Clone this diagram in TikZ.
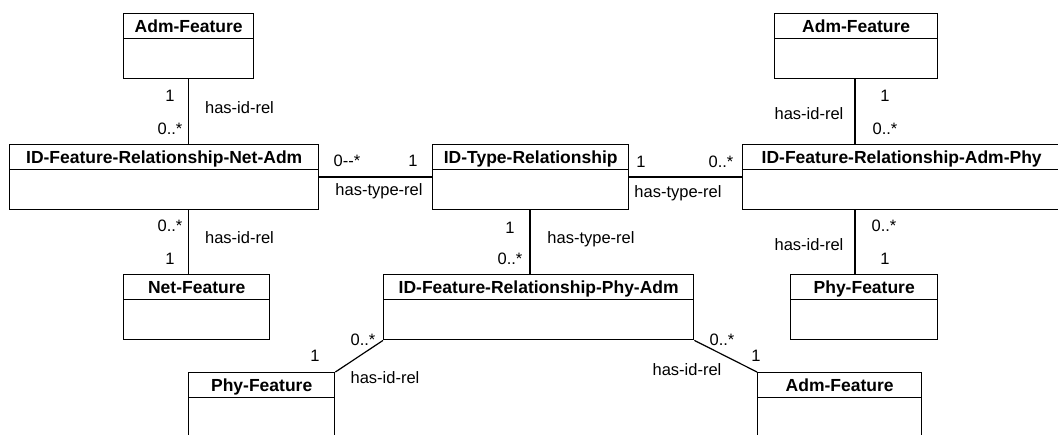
\documentclass[tikz,border=0pt]{standalone}
\usepackage{fontspec}
\setmainfont{Liberation Sans}
\begin{document}
\begin{tikzpicture}[x=1pt,y=-1pt,
  cls/.style={draw=black, line width=1.4pt, anchor=north west, inner sep=0pt,
    minimum height=65pt,
    path picture={\draw[line width=1.4pt]
      ([yshift=-25pt]path picture bounding box.north west) --
      ([yshift=-25pt]path picture bounding box.north east);}},
  ttl/.style={anchor=base, inner sep=0pt, font=\bfseries\fontsize{17.5}{20}\selectfont},
  lbl/.style={anchor=base, inner sep=0pt, font=\fontsize{16.5}{19}\selectfont},
  assoc/.style={draw=black, line width=1.2pt}]
\useasboundingbox (0,0) rectangle (1058,434);
\clip (0,0) rectangle (1058,434);

% class boxes
\node[cls, minimum width=130pt] (af1) at (123,13) {};
\node[cls, minimum width=309pt] (nfa) at (9,144) {};
\node[cls, minimum width=146pt] (nf)  at (123,274) {};
\node[cls, minimum width=196pt] (itr) at (432,144) {};
\node[cls, minimum width=163pt] (af2) at (774,13) {};
\node[cls, minimum width=318pt] (fap) at (742,144) {};
\node[cls, minimum width=147pt] (pf1) at (790,274) {};
\node[cls, minimum width=310pt] (fpa) at (383,274) {};
\node[cls, minimum width=146pt] (pf2) at (188,372) {};
\node[cls, minimum width=164pt] (af3) at (757,372) {};

% class names
\node[ttl] (af1t) at ([yshift=-19pt]af1.north) {Adm-Feature};
\node[ttl] (nfat) at ([yshift=-19pt]nfa.north) {ID-Feature-Relationship-Net-Adm};
\node[ttl] (nft)  at ([yshift=-19pt]nf.north)  {Net-Feature};
\node[ttl] (itrt) at ([yshift=-19pt]itr.north) {ID-Type-Relationship};
\node[ttl] (af2t) at ([yshift=-19pt]af2.north) {Adm-Feature};
\node[ttl] (fapt) at ([yshift=-19pt]fap.north) {ID-Feature-Relationship-Adm-Phy};
\node[ttl] (pf1t) at ([yshift=-19pt]pf1.north) {Phy-Feature};
\node[ttl] (fpat) at ([yshift=-19pt]fpa.north) {ID-Feature-Relationship-Phy-Adm};
\node[ttl] (pf2t) at ([yshift=-19pt]pf2.north) {Phy-Feature};
\node[ttl] (af3t) at ([yshift=-19pt]af3.north) {Adm-Feature};

% associations
\draw[assoc] (af1.south) -- (af1.south |- nfa.north);
\draw[assoc] (nfa.south -| af1.south) -- (nf.north -| af1.south);
\draw[assoc] (nfa.east |- 0,177) -- (itr.west |- 0,177);
\draw[assoc] (itr.east |- 0,177) -- (fap.west |- 0,177);
\draw[assoc] (itr.south -| 530,0) -- (fpa.north -| 530,0);
\draw[assoc] (af2.south -| 855,0) -- (fap.north -| 855,0);
\draw[assoc] (fap.south -| 855,0) -- (pf1.north -| 855,0);
\draw[assoc] (fpa.south west) -- (pf2.north east);
\draw[assoc] (fpa.south east) -- (af3.north west);

% role names and multiplicities
\node[lbl] (m1)  at (170,101) {1};
\node[lbl] (r1)  at (239.5,113) {has-id-rel};
\node[lbl] (m2)  at (170,134) {0..*};
\node[lbl] (m3)  at (347,166) {0-\kern0pt-*};
\node[lbl] (m4)  at (413,166) {1};
\node[lbl] (r2)  at (379,195) {has-type-rel};
\node[lbl] (m5)  at (170,231) {0..*};
\node[lbl] (r3)  at (239.5,243) {has-id-rel};
\node[lbl] (m6)  at (170,264) {1};
\node[lbl] (m7)  at (510,233) {1};
\node[lbl] (m8)  at (510,264) {0..*};
\node[lbl] (r4)  at (591,243) {has-type-rel};
\node[lbl] (m9)  at (641,167) {1};
\node[lbl] (m10) at (721,167) {0..*};
\node[lbl] (r5)  at (678,197) {has-type-rel};
\node[lbl] (m11) at (885,101) {1};
\node[lbl] (r6)  at (809,119) {has-id-rel};
\node[lbl] (m12) at (885,134) {0..*};
\node[lbl] (m13) at (884,231) {0..*};
\node[lbl] (r7)  at (809,250) {has-id-rel};
\node[lbl] (m14) at (885,264) {1};
\node[lbl] (m15) at (363,345) {0..*};
\node[lbl] (m16) at (315,361) {1};
\node[lbl] (r8)  at (385,383) {has-id-rel};
\node[lbl] (m17) at (722,345) {0..*};
\node[lbl] (m18) at (756,361) {1};
\node[lbl] (r9)  at (687,375) {has-id-rel};
\end{tikzpicture}
\end{document}
